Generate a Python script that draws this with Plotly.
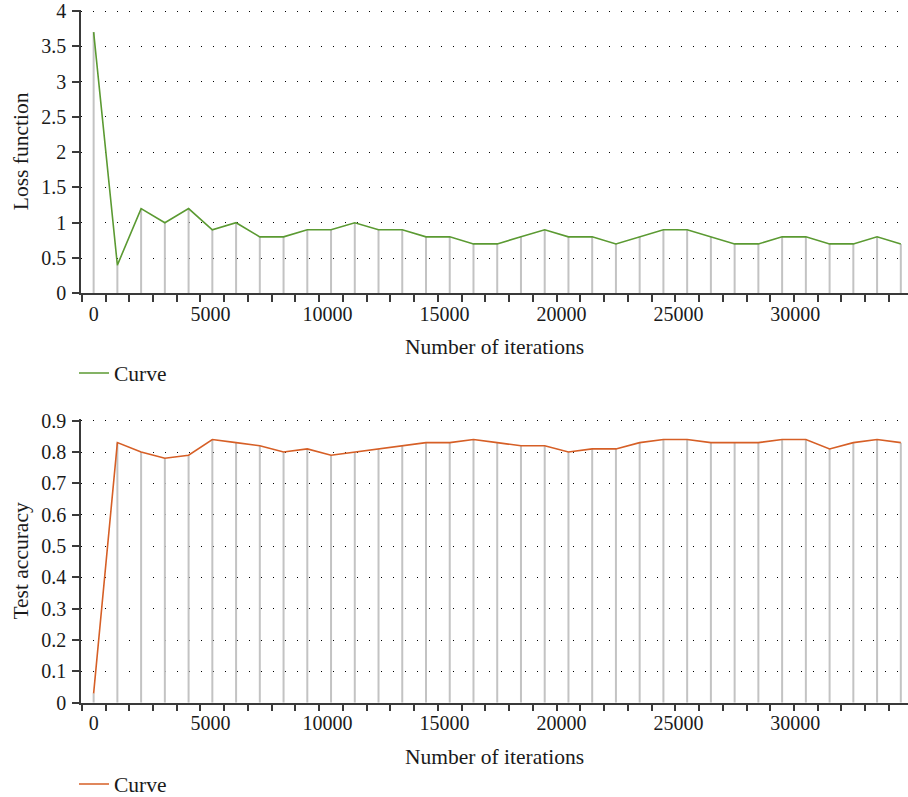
import plotly.graph_objects as go

# ---- data ----
iterations = [0, 1015, 2030, 3045, 4060, 5075, 6090, 7105, 8120, 9135,
              10150, 11165, 12180, 13195, 14210, 15225, 16240, 17255, 18270, 19285,
              20300, 21315, 22330, 23345, 24360, 25375, 26390, 27405, 28420, 29435,
              30450, 31465, 32480, 33495, 34510]
loss = [3.7, 0.4, 1.2, 1.0, 1.2, 0.9, 1.0, 0.8, 0.8, 0.9,
        0.9, 1.0, 0.9, 0.9, 0.8, 0.8, 0.7, 0.7, 0.8, 0.9,
        0.8, 0.8, 0.7, 0.8, 0.9, 0.9, 0.8, 0.7, 0.7, 0.8,
        0.8, 0.7, 0.7, 0.8, 0.7]
accuracy = [0.03, 0.83, 0.80, 0.78, 0.79, 0.84, 0.83, 0.82, 0.80, 0.81,
            0.79, 0.80, 0.81, 0.82, 0.83, 0.83, 0.84, 0.83, 0.82, 0.82,
            0.80, 0.81, 0.81, 0.83, 0.84, 0.84, 0.83, 0.83, 0.83, 0.84,
            0.84, 0.81, 0.83, 0.84, 0.83]
x_tick_labels = [0, 5000, 10000, 15000, 20000, 25000, 30000]
loss_ticks = [0, 0.5, 1, 1.5, 2, 2.5, 3, 3.5, 4]
acc_ticks = [0, 0.1, 0.2, 0.3, 0.4, 0.5, 0.6, 0.7, 0.8, 0.9]

GREEN = "#5b9a32"
ORANGE = "#d65f26"
DROP = "#c3c3c3"
AXIS = "#3a3a3a"
TXT = "#1a1a1a"
FONT = "Liberation Serif"
FS_TICK = 20
FS_TITLE = 21.5

# tick marks sit midway between consecutive samples
mid_ticks = [iterations[0] - (iterations[1] - iterations[0]) / 2] + \
            [(a + b) / 2 for a, b in zip(iterations[:-1], iterations[1:])]


def drops(xs, ys):
    dx, dy = [], []
    for x, y in zip(xs, ys):
        dx += [x, x, None]
        dy += [0, y, None]
    return dx, dy


fig = go.Figure()

dx, dy = drops(iterations, loss)
fig.add_trace(go.Scatter(x=dx, y=dy, mode="lines", line=dict(color=DROP, width=2),
                         showlegend=False, hoverinfo="skip", xaxis="x", yaxis="y"))
fig.add_trace(go.Scatter(x=iterations, y=loss, mode="lines", name="Curve",
                         line=dict(color=GREEN, width=1.6), xaxis="x", yaxis="y",
                         legend="legend"))

dx2, dy2 = drops(iterations, accuracy)
fig.add_trace(go.Scatter(x=dx2, y=dy2, mode="lines", line=dict(color=DROP, width=2),
                         showlegend=False, hoverinfo="skip", xaxis="x2", yaxis="y2"))
fig.add_trace(go.Scatter(x=iterations, y=accuracy, mode="lines", name="Curve",
                         line=dict(color=ORANGE, width=1.6), xaxis="x2", yaxis="y2",
                         legend="legend2"))

W, H = 908, 797
L = 81
PW = W - L
xrange_ = [-540, 34817]
PAD = 1.5  # px of headroom so the top gridline is not clipped away


def xaxis_cfg(anchor):
    return dict(
        domain=[0, 1], anchor=anchor, range=xrange_, automargin=False,
        tickmode="array", tickvals=x_tick_labels,
        ticktext=[str(v) for v in x_tick_labels],
        ticks="outside", ticklen=0, tickcolor=AXIS,
        showline=True, linecolor=AXIS, linewidth=1.5,
        showgrid=False, zeroline=False, ticklabeloverflow="allow",
        tickfont=dict(family=FONT, size=FS_TICK, color=TXT),
        ticklabelstandoff=2,
        title=dict(text="Number of iterations", font=dict(family=FONT, size=FS_TITLE, color=TXT),
                   standoff=15),
        minor=dict(tickmode="array", tickvals=mid_ticks, ticks="outside", ticklen=7,
                   tickwidth=1.5, tickcolor=AXIS, showgrid=False),
    )


def yaxis_cfg(anchor, top_px, bottom_px, ymax, ticks, title):
    per_px = ymax / (bottom_px - top_px)
    dom = [(H - bottom_px) / H, (H - (top_px - PAD)) / H]
    return dict(
        domain=dom, anchor=anchor, range=[0, ymax + PAD * per_px], automargin=False,
        tickmode="array", tickvals=ticks, ticktext=[f"{v:g}" for v in ticks],
        ticks="outside", ticklen=7, tickwidth=1.5, tickcolor=AXIS,
        showline=True, linecolor=AXIS, linewidth=1.5,
        showgrid=True, gridcolor="#000000", gridwidth=1, griddash="1px,11px",
        zeroline=False, ticklabeloverflow="allow",
        tickfont=dict(family=FONT, size=FS_TICK, color=TXT),
        ticklabelstandoff=2,
        title=dict(text=title, font=dict(family=FONT, size=FS_TITLE, color=TXT), standoff=7),
    )


fig.update_layout(
    width=W, height=H,
    margin=dict(l=L, r=0, t=0, b=0, autoexpand=False),
    paper_bgcolor="white", plot_bgcolor="white",
    font=dict(family=FONT, size=FS_TICK, color=TXT),
    xaxis=xaxis_cfg("y"),
    yaxis=yaxis_cfg("x", 11, 293.3, loss_ticks[-1], loss_ticks, "Loss function"),
    xaxis2=xaxis_cfg("y2"),
    yaxis2=yaxis_cfg("x2", 420.7, 702.7, acc_ticks[-1], acc_ticks, "Test accuracy"),
    legend=dict(x=-7 / PW, y=(H - 373) / H, xanchor="left", yanchor="middle",
                font=dict(family=FONT, size=FS_TITLE, color=TXT), bgcolor="rgba(0,0,0,0)"),
    legend2=dict(x=-7 / PW, y=(H - 784) / H, xanchor="left", yanchor="middle",
                 font=dict(family=FONT, size=FS_TITLE, color=TXT), bgcolor="rgba(0,0,0,0)"),
)

fig.write_html("out.html", config={"displayModeBar": False},
               post_script="document.body.style.margin='0';document.body.style.overflow='hidden';")
